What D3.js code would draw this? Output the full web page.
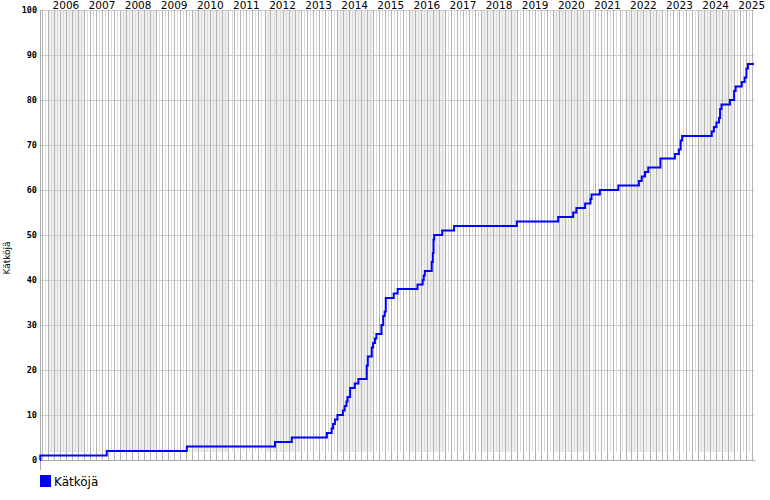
<!DOCTYPE html>
<html><head><meta charset="utf-8">
<script src="https://cdn.jsdelivr.net/npm/d3@7"></script>
<style>body{margin:0;background:#fff}svg{display:block}</style>
</head><body>
<svg id="c" width="770" height="500"></svg>
<script>
// Step data: date of change -> cumulative count
const changeDates = ["2005-10-12","2005-10-15","2007-08-18","2009-11-06","2012-04-16","2012-10-03","2013-09-23","2013-11-10","2013-11-25","2013-12-13","2014-01-08","2014-03-04","2014-03-22","2014-04-09","2014-04-20","2014-05-16","2014-07-02","2014-08-08","2014-10-31","2014-11-11","2014-12-21","2015-01-04","2015-01-22","2015-02-06","2015-03-29","2015-04-16","2015-05-01","2015-05-12","2015-07-31","2015-09-09","2016-03-28","2016-05-19","2016-05-30","2016-06-10","2016-08-19","2016-08-30","2016-09-06","2016-09-13","2016-12-03","2017-04-02","2018-12-28","2020-02-20","2020-07-20","2020-08-22","2020-11-18","2021-01-11","2021-01-22","2021-04-16","2021-10-20","2022-05-16","2022-06-14","2022-07-17","2022-08-19","2022-12-20","2023-05-16","2023-06-25","2023-07-13","2023-07-28","2024-05-22","2024-06-13","2024-07-09","2024-08-04","2024-08-15","2024-08-29","2024-11-22","2025-01-04","2025-01-19","2025-03-22","2025-04-20","2025-05-08","2025-05-23","2025-07-24"];
const counts = [0,1,2,3,4,5,6,7,8,9,10,11,12,13,14,16,17,18,21,23,25,26,27,28,30,32,33,36,37,38,39,40,41,42,44,46,49,50,51,52,53,54,55,56,57,58,59,60,61,62,63,64,65,67,68,69,71,72,73,74,75,76,78,79,80,82,83,84,85,87,88,88];
const yTicks = [0,10,20,30,40,50,60,70,80,90,100];
const years = [2006,2007,2008,2009,2010,2011,2012,2013,2014,2015,2016,2017,2018,2019,2020,2021,2022,2023,2024,2025];
const seriesName = "Kätköjä";

const parse = d3.timeParse("%Y-%m-%d");
const data = changeDates.map((d,i)=>({date:parse(d), v:counts[i]}));
const start = data[0].date, end = data[data.length-1].date;

const L=40, R=754, T=10, B=460;
const x = d3.scaleTime().domain([start,end]).range([L,R]);
const y = d3.scaleLinear().domain([0,100]).range([B,T]);
const svg = d3.select("#c");

// year shading (even years)
years.filter(yr=>yr%2===0).forEach(yr=>{
  const a = Math.max(L, x(new Date(yr,0,1))), b = Math.min(R, x(new Date(yr+1,0,1)));
  svg.append("rect").attr("x",a).attr("y",T).attr("width",b-a).attr("height",B-8-T).attr("fill","#efefef");
});

// horizontal grid
svg.selectAll("line.h").data(yTicks.filter(t=>t>0)).join("line")
  .attr("x1",L).attr("x2",R).attr("y1",d=>Math.round(y(d))+0.5).attr("y2",d=>Math.round(y(d))+0.5)
  .attr("stroke","#cccccc").attr("shape-rendering","crispEdges");

// month lines
const months = d3.timeMonth.range(d3.timeMonth.ceil(start), end);
svg.selectAll("line.m").data(months).join("line")
  .attr("x1",d=>Math.round(x(d))+0.5).attr("x2",d=>Math.round(x(d))+0.5)
  .attr("y1",T).attr("y2",(d,i)=> d.getMonth()%2===0 ? B : B-8)
  .attr("stroke",(d)=> d.getMonth()%2===0 ? "#b4b4b4" : "#dadada")
  .attr("shape-rendering","crispEdges");

// axes lines
svg.append("line").attr("x1",L+0.5).attr("x2",L+0.5).attr("y1",T).attr("y2",470).attr("stroke","#aaaaaa").attr("shape-rendering","crispEdges");
svg.append("line").attr("x1",L).attr("x2",R+1).attr("y1",B+0.5).attr("y2",B+0.5).attr("stroke","#aaaaaa").attr("shape-rendering","crispEdges");

// y axis labels
const ya = svg.append("g").attr("transform",`translate(${L-1},0)`).call(d3.axisLeft(y).tickValues(yTicks).tickSize(0).tickPadding(2));
ya.select(".domain").remove();
ya.selectAll("text").attr("font-family","DejaVu Sans Mono").attr("font-weight","bold").attr("font-size","8.5px").attr("fill","#000");

// year labels
svg.selectAll("text.yr").data(years).join("text")
  .attr("x",d=>x(new Date(d,6,1))).attr("y",9).attr("text-anchor","middle")
  .attr("font-family","DejaVu Sans").attr("font-size","10.5px").attr("fill","#000").text(d=>d);

// y title
svg.append("text").attr("transform","translate(10,258) rotate(-90)").attr("text-anchor","middle")
  .attr("font-family","DejaVu Sans").attr("font-size","9px").attr("fill","#000").text(seriesName);

// line
const line = d3.line().x(d=>x(d.date)).y(d=>y(d.v)).curve(d3.curveStepAfter);
svg.append("path").datum(data).attr("d",line).attr("fill","none").attr("stroke","#0000ff").attr("stroke-width",2);

// legend
svg.append("rect").attr("x",40).attr("y",475).attr("width",11).attr("height",12).attr("fill","#0000ff");
svg.append("text").attr("x",54).attr("y",486).attr("font-family","DejaVu Sans").attr("font-size","12px").attr("fill","#000").text(seriesName);
</script>
</body></html>
